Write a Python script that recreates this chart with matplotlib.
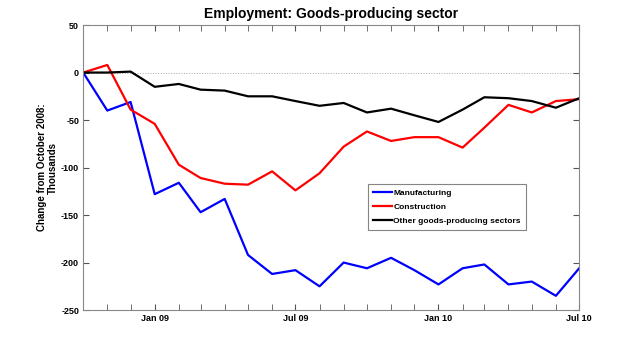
import numpy as np
import pandas as pd
import matplotlib
matplotlib.use("Agg")
import matplotlib.pyplot as plt
import matplotlib.dates as mdates

plt.rcParams['font.family'] = ['Liberation Sans', 'DejaVu Sans']
plt.rcParams['axes.unicode_minus'] = False

# monthly, Oct 2008 .. Jul 2010
months = pd.date_range("2008-10-01", "2010-07-01", freq="MS")

manufacturing = [0, -40, -31, -128, -116, -147, -133, -192, -212, -208, -225, -200,
                 -206, -195, -208, -223, -206, -202, -223, -220, -235, -206]
construction = [0, 8, -39, -54, -97, -111, -117, -118, -104, -124, -106, -78,
                -62, -72, -68, -68, -79, -58, -34, -42, -30, -28]
other = [0, 0, 1, -15, -12, -18, -19, -25, -25, -30, -35, -32,
         -42, -38, -45, -52, -39, -26, -27, -30, -37, -27]

fig = plt.figure(figsize=(6.4, 3.48), dpi=100)
ax = fig.add_axes([0.130, 0.109, 0.775, 0.819])

ax.axhline(0, color='#aaaaaa', lw=0.7, ls=':', zorder=1)
ax.plot(months, manufacturing, color='#0000ff', lw=1.6, label='Manufacturing')
ax.plot(months, construction, color='#ff0000', lw=1.6, label='Construction')
ax.plot(months, other, color='#000000', lw=1.6, label='Other goods-producing sectors')

ax.set_xlim(months[0], months[-1])
ax.set_ylim(-250, 50)
ax.set_yticks([50, 0, -50, -100, -150, -200, -250])

ax.xaxis.set_major_locator(mdates.MonthLocator(bymonth=[1, 7]))
ax.xaxis.set_major_formatter(mdates.DateFormatter('%b %y'))
ax.xaxis.set_minor_locator(mdates.MonthLocator())

ax.tick_params(which='both', direction='in', top=True, right=True,
               labelsize=6.5, color='#555555', pad=3)
ax.tick_params(which='major', length=4)
ax.tick_params(which='minor', length=4)
for lbl in ax.get_xticklabels() + ax.get_yticklabels():
    lbl.set_fontweight('bold')
for s in ax.spines.values():
    s.set_color('#888888')
    s.set_linewidth(0.8)

ax.set_title('Employment: Goods-producing sector', fontsize=10, fontweight='bold', pad=5)
ax.set_ylabel('Change from October 2008:\nThousands', fontsize=7, fontweight='bold',
              labelpad=2)

leg = ax.legend(loc='lower left', bbox_to_anchor=(0.565, 0.265),
                prop={'weight': 'bold', 'size': 6}, handlelength=2.3,
                frameon=True, fancybox=False, borderpad=0.6, labelspacing=0.75,
                handletextpad=0.2)
leg.get_frame().set_edgecolor('#666666')
leg.get_frame().set_linewidth(0.8)

fig.savefig('out.png', dpi=100)
